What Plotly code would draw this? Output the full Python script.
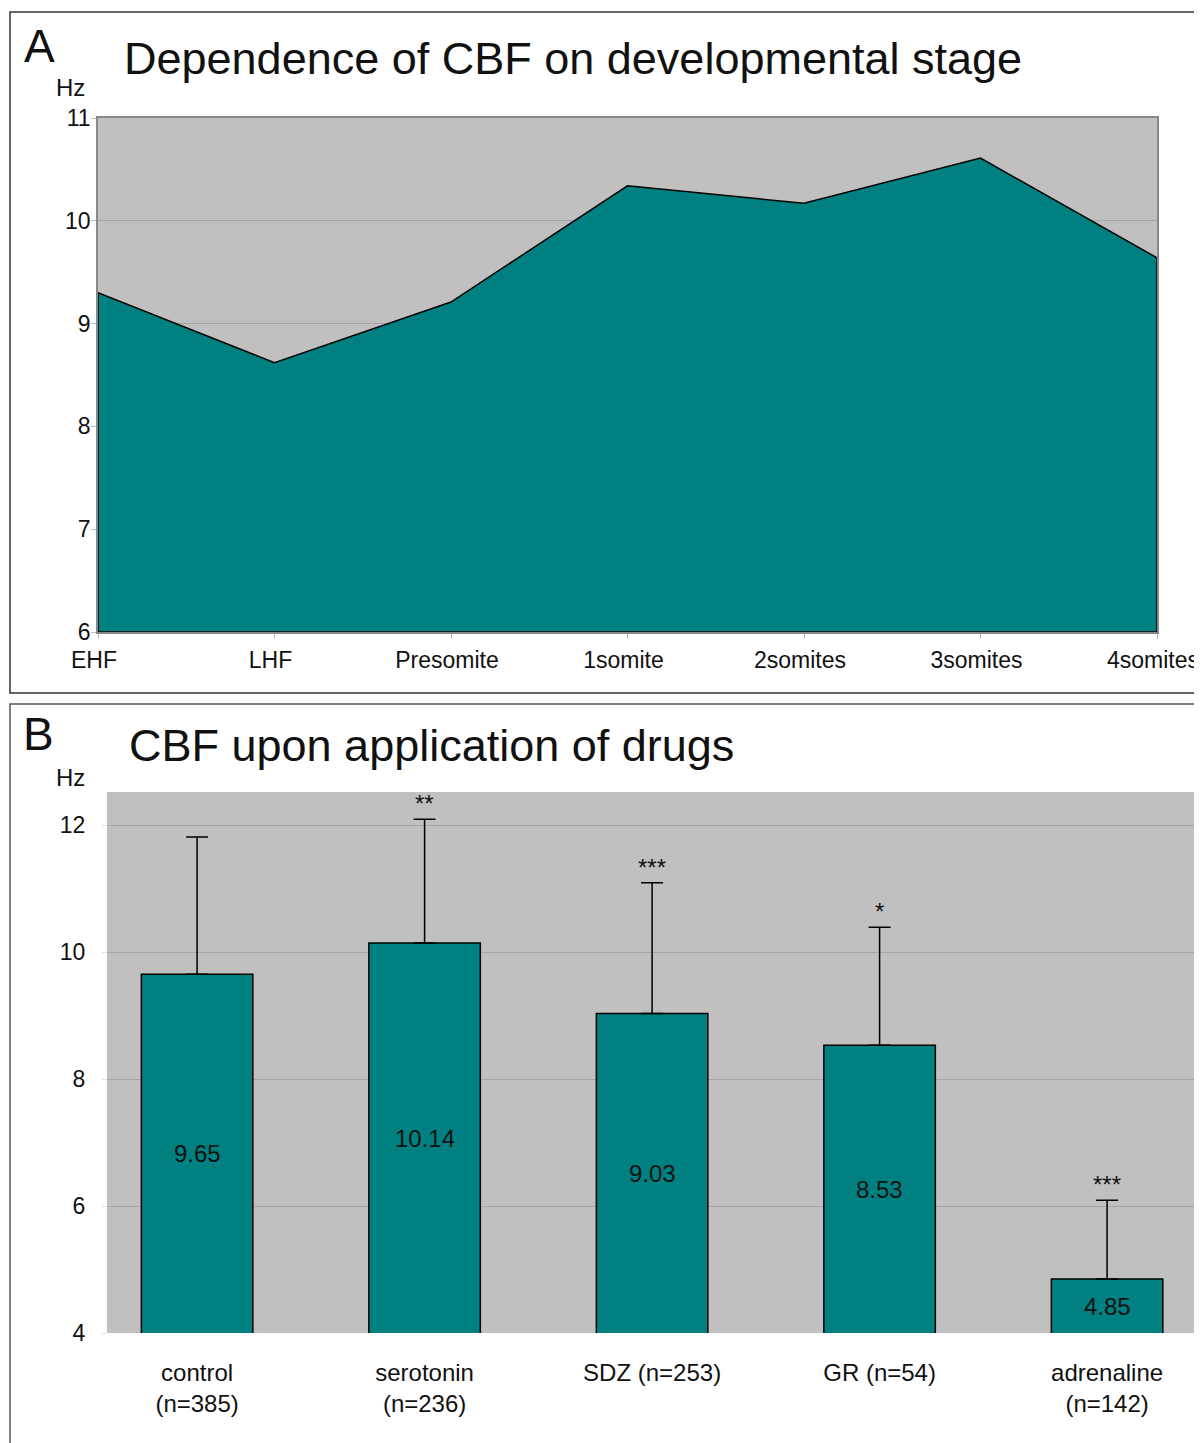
import plotly.graph_objects as go

W, H = 1202, 1443
OFF = 8  # page body margin: figure is drawn 8px right/down of the page origin
FONT = "Arial, Liberation Sans, sans-serif"
TEAL = "#008080"
GRAY = "#C0C0C0"
GRID = "#A4A4A4"

# ---- Panel A data ----
stages = ["EHF", "LHF", "Presomite", "1somite", "2somites", "3somites", "4somites"]
cbf_stage = [9.30, 8.62, 9.21, 10.34, 10.17, 10.61, 9.64]
Y_MIN_A, Y_MAX_A = 6, 11

# ---- Panel B data ----
drugs = ["control<br>(n=385)", "serotonin<br>(n=236)", "SDZ (n=253)", "GR (n=54)", "adrenaline<br>(n=142)"]
cbf_drug = [9.65, 10.14, 9.03, 8.53, 4.85]
sd_drug = [2.16, 1.95, 2.06, 1.86, 1.24]
signif = ["", "**", "***", "*", "***"]
Y_MIN_B, Y_MAX_B = 4, 12.52


def px_x(p):
    return (p - OFF) / W


def px_y(p):
    return 1 - (p - OFF) / H


fig = go.Figure()

# Panel A: area polygon closed on the axis minimum
xs = list(range(len(stages)))
fig.add_trace(go.Scatter(
    x=xs + [xs[-1], xs[0], xs[0]],
    y=cbf_stage + [Y_MIN_A, Y_MIN_A, cbf_stage[0]],
    fill="toself", fillcolor=TEAL, mode="lines",
    line=dict(color="black", width=1.5),
    xaxis="x", yaxis="y", showlegend=False, hoverinfo="skip",
))

# Panel B: bars
fig.add_trace(go.Bar(
    x=list(range(len(drugs))), y=cbf_drug, width=0.49,
    marker=dict(color=TEAL, line=dict(color="black", width=1.5)),
    error_y=dict(type="data", array=sd_drug, arrayminus=[0] * len(sd_drug),
                 symmetric=False, color="black", thickness=1.5, width=11),
    xaxis="x2", yaxis="y2", showlegend=False, hoverinfo="skip",
))

annotations = []
for i, (v, s, sig) in enumerate(zip(cbf_drug, sd_drug, signif)):
    annotations.append(dict(x=i, y=(Y_MIN_B + v) / 2, xref="x2", yref="y2",
                            text=f"{v:.2f}", showarrow=False,
                            font=dict(family=FONT, size=24, color="#111")))
    if sig:
        annotations.append(dict(x=i, y=v + s, xref="x2", yref="y2", text=sig,
                                showarrow=False, yanchor="bottom", yshift=0,
                                font=dict(family=FONT, size=24, color="#111")))

# Panel labels, titles and units
for txt, x, y, size in [
    ("A", 39, 46, 46), ("B", 38, 734, 46),
    ("Hz", 70, 87, 24), ("Hz", 70, 778, 24),
]:
    annotations.append(dict(x=px_x(x), y=px_y(y), xref="paper", yref="paper",
                            text=txt, showarrow=False, xanchor="center", yanchor="middle",
                            font=dict(family=FONT, size=size, color="#111")))
annotations.append(dict(x=px_x(122), y=px_y(58), xref="paper", yref="paper",
                        text="Dependence of CBF on developmental stage", showarrow=False,
                        xanchor="left", yanchor="middle",
                        font=dict(family=FONT, size=45, color="#111")))
annotations.append(dict(x=px_x(127), y=px_y(745), xref="paper", yref="paper",
                        text="CBF upon application of drugs", showarrow=False,
                        xanchor="left", yanchor="middle",
                        font=dict(family=FONT, size=45, color="#111")))

shapes = [
    dict(type="rect", xref="paper", yref="paper", x0=px_x(10), x1=px_x(1210),
         y0=px_y(693), y1=px_y(12), line=dict(color="#333", width=1.5)),
    dict(type="rect", xref="paper", yref="paper", x0=px_x(10), x1=px_x(1210),
         y0=px_y(1460), y1=px_y(704), line=dict(color="#555", width=1.5)),
]

tickA = dict(family=FONT, size=23, color="#111")
tickB = dict(family=FONT, size=24, color="#111")

fig.update_layout(
    width=W, height=H, margin=dict(l=0, r=0, t=0, b=0, pad=0, autoexpand=False),
    paper_bgcolor="white", plot_bgcolor=GRAY,
    annotations=annotations, shapes=shapes,
    xaxis=dict(domain=[px_x(98), px_x(1157)], range=[0, len(stages) - 1],
               tickmode="array", tickvals=xs, ticktext=stages,
               showgrid=False, zeroline=False, ticks="outside", ticklen=5,
               tickcolor="#BBB", tickfont=tickA, ticklabelstandoff=2,
               ticklabelshift=-4, ticklabeloverflow="allow",
               showline=True, mirror=True, linecolor="#888", linewidth=1.5,
               layer="below traces", anchor="y", automargin=False),
    yaxis=dict(domain=[px_y(632), px_y(118)], range=[Y_MIN_A, Y_MAX_A],
               tickvals=[6, 7, 8, 9, 10, 11], showgrid=True, gridcolor=GRID,
               zeroline=False, ticks="outside", ticklen=5, tickcolor="#BBB",
               tickfont=tickA, ticklabelstandoff=-4, ticklabeloverflow="allow",
               showline=True, mirror=True, linecolor="#888", linewidth=1.5,
               layer="below traces", anchor="x", automargin=False),
    xaxis2=dict(domain=[px_x(107), px_x(1199)], range=[-0.396, len(drugs) - 1 + 0.404],
                tickmode="array", tickvals=list(range(len(drugs))), ticktext=drugs,
                showgrid=False, zeroline=False, ticks="", tickfont=tickB,
                ticklabelstandoff=23, ticklabeloverflow="allow",
                showline=False, anchor="y2", automargin=False),
    yaxis2=dict(domain=[px_y(1333), px_y(792)], range=[Y_MIN_B, Y_MAX_B],
                tickvals=[4, 6, 8, 10, 12], showgrid=True, gridcolor=GRID,
                zeroline=False, ticks="outside", ticklen=4, tickcolor="#DDD",
                tickfont=tickA, ticklabelstandoff=12, ticklabeloverflow="allow",
                showline=False, anchor="x2", automargin=False),
)

fig.write_html("out.html")
